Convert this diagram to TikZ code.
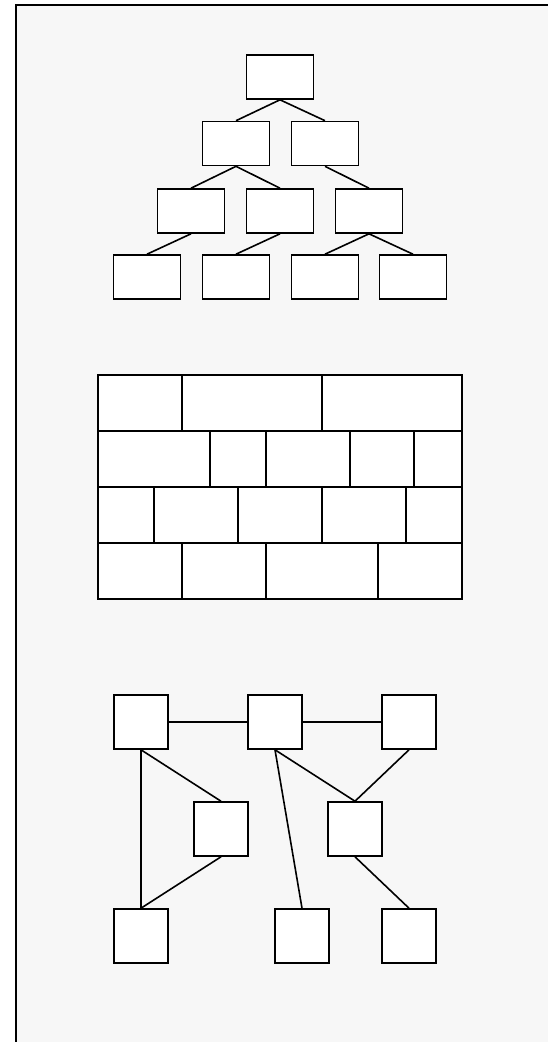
\documentclass[tikz,border=0pt]{standalone}

\begin{document}
\begin{tikzpicture}[x=1pt, y=-1pt, line width=1.6pt,
  treebox/.style={draw, fill=white, minimum width=67pt, minimum height=44pt, inner sep=0pt},
  graphbox/.style={draw, fill=white, minimum size=54pt, inner sep=0pt},
  brick/.style={draw, fill=white},
]
  \useasboundingbox (0,0) rectangle (548,1042);
  % 背景：左边和上边有框线
  \fill[gray!6] (16,5) rectangle (560,1060);
  \draw (16,1060) -- (16,5) -- (560,5);
  % 树
  \node[treebox] (r) at (280,77) {};
  \node[treebox] (a) at (236,143.5) {};
  \node[treebox] (b) at (325,143.5) {};
  \node[treebox] (c) at (191,211) {};
  \node[treebox] (d) at (280,211) {};
  \node[treebox] (e) at (369,211) {};
  \node[treebox] (f) at (147,277) {};
  \node[treebox] (g) at (236,277) {};
  \node[treebox] (h) at (325,277) {};
  \node[treebox] (i) at (413,277) {};
  \foreach \p/\c in {r/a,r/b,a/c,a/d,b/e,c/f,d/g,e/h,e/i}
    \draw (\p.south) -- (\c.north);
  % 砖墙，四排
  \foreach \xa/\xb in {98/182,182/322,322/462}
    \draw[brick] (\xa,375) rectangle (\xb,431);
  \foreach \xa/\xb in {98/210,210/266,266/350,350/414,414/462}
    \draw[brick] (\xa,431) rectangle (\xb,487);
  \foreach \xa/\xb in {98/154,154/238,238/322,322/406,406/462}
    \draw[brick] (\xa,487) rectangle (\xb,543);
  \foreach \xa/\xb in {98/182,182/266,266/378,378/462}
    \draw[brick] (\xa,543) rectangle (\xb,599);
  % 图
  \node[graphbox] (t1) at (141,722) {};
  \node[graphbox] (t2) at (275,722) {};
  \node[graphbox] (t3) at (409,722) {};
  \node[graphbox] (m1) at (221,829) {};
  \node[graphbox] (m2) at (355,829) {};
  \node[graphbox] (b1) at (141,936) {};
  \node[graphbox] (b2) at (302,936) {};
  \node[graphbox] (b3) at (409,936) {};
  \draw (t1) -- (t2) -- (t3);
  \foreach \u/\v in {t1/m1,t1/b1,m1/b1,t2/b2,t2/m2,t3/m2,m2/b3}
    \draw (\u.south) -- (\v.north);
\end{tikzpicture}
\end{document}
